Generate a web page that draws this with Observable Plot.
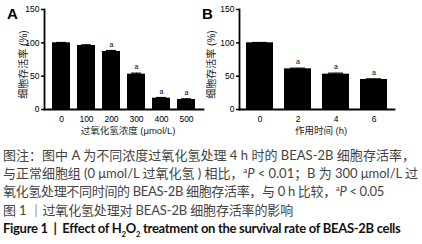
<!DOCTYPE html>
<html><head><meta charset="utf-8">
<script src="https://cdn.jsdelivr.net/npm/d3@7"></script>
<script src="https://cdn.jsdelivr.net/npm/@observablehq/plot@0.6"></script>
<style>
html,body{margin:0;padding:0;background:#fff;}
#root{position:relative;width:422px;height:244px;overflow:hidden;font-family:Lato,"Noto Sans CJK SC",sans-serif;}
.panel{position:absolute;top:0;}
.letter{position:absolute;font:bold 15px "Liberation Sans",Arial,sans-serif;color:#000;}
#cap{position:absolute;left:3px;top:146px;font-size:13px;line-height:18.2px;color:#444;white-space:nowrap;}
#cap div{white-space:nowrap;display:block;width:max-content;}
#cap .en{color:#111;font-weight:bold;}
sup,sub{font-size:0.6em;line-height:0;}
</style></head>
<body><div id="root">
<div id="pa" class="panel" style="left:0"></div>
<div id="pb" class="panel" style="left:180px"></div>
<div class="letter" style="left:7px;top:5px">A</div>
<div class="letter" style="left:202px;top:5px">B</div>
<div id="cap">
<div data-w="412">图注：图中 A 为不同浓度过氧化氢处理 4 h 时的 BEAS-2B 细胞存活率，</div>
<div data-w="415">与正常细胞组 (0 μmol/L 过氧化氢 ) 相比，<sup>a</sup><i>P</i> &lt; 0.01；B 为 300 μmol/L 过</div>
<div data-w="381">氧化氢处理不同时间的 BEAS-2B 细胞存活率，与 0 h 比较，<sup>a</sup><i>P</i> &lt; 0.05</div>
<div data-w="290">图 1 ｜过氧化氢处理对 BEAS-2B 细胞存活率的影响</div>
<div class="en" data-w="397">Figure 1 &nbsp;|&nbsp; Effect of H<sub>2</sub>O<sub>2</sub> treatment on the survival rate of BEAS-2B cells</div>
</div>
</div>
<script>
const concLabels = ["0","100","200","300","400","500"];
const concMeans = [100,96,87,53,17,15];
const concErr = [0.5,1,1.5,1.5,1,1];
const concSig = ["","","a","a","a","a"];
const timeLabels = ["0","2","4","6"];
const timeMeans = [100,61,53,45];
const timeErr = [0.5,1,1.5,1];
const timeSig = ["","a","a","a"];
const yTicks = [0,50,100,150];
const yTitle = "细胞存活率 (%)";
const concTitle = "过氧化氢浓度 (μmol/L)";
const timeTitle = "作用时间 (h)";

function panel(labels, means, errs, sig, xTitle, o) {
  const data = labels.map((k,i)=>({k, v:means[i], e:errs[i], s:sig[i]}));
  return Plot.plot({
    width: o.width, height: 140,
    marginLeft: o.ml, marginTop: 9, marginBottom: 31, marginRight: 3,
    style: {fontFamily: '"Liberation Sans", Arial, "Noto Sans CJK SC", sans-serif', fontSize: "8.5px", color: "#000", background: "transparent", overflow: "visible"},
    x: {domain: labels, paddingInner: 0.3, paddingOuter: o.po, label: null},
    y: {domain: [0,150], label: null},
    marks: [
      Plot.barY(data, {x:"k", y:"v", fill:"#000"}),
      Plot.ruleX(data, {x:"k", y1:"v", y2:d=>d.v+d.e, stroke:"#000"}),
      Plot.tickY(data, {x:"k", y:d=>d.v+d.e, stroke:"#000", strokeWidth:1.2, inset:o.capInset}),
      Plot.text(data, {x:"k", y:d=>d.v+d.e, text:"s", dy:-6, fontSize:7, fill:"#000"}),
      Plot.axisY({ticks: yTicks, tickSize: 3, tickPadding: 2, label: null, strokeWidth: 1.5}),
      Plot.axisX({tickSize: 0, tickPadding: 6, label: null}),
      Plot.frame({anchor:"left", stroke:"#000", strokeWidth:1.8}),
      Plot.frame({anchor:"bottom", stroke:"#000", strokeWidth:1.8}),
      Plot.text([yTitle], {frameAnchor:"left", textAnchor:"middle", rotate:-90, dx:o.ydx, dy:5, text:d=>d, fontSize:10, fill:"#222"}),
      Plot.text([xTitle], {frameAnchor:"bottom", dy:24, dx:4, text:d=>d, fontSize:9.5, fill:"#222"})
    ]
  });
}
document.getElementById("pa").append(panel(concLabels, concMeans, concErr, concSig, concTitle, {width:206, ml:44, po:0.25, ydx:-21, capInset:4}));
document.getElementById("pb").append(panel(timeLabels, timeMeans, timeErr, timeSig, timeTitle, {width:217, ml:59, po:0.15, ydx:-28, capInset:6}));

function fitCaption(){
  document.querySelectorAll("#cap div").forEach(el=>{
    el.style.letterSpacing = "0px";
    const target = +el.dataset.w;
    const w = el.getBoundingClientRect().width;
    const n = el.textContent.length;
    el.style.letterSpacing = ((target - w) / n) + "px";
  });
}
fitCaption();
if (document.fonts && document.fonts.ready) document.fonts.ready.then(fitCaption);
</script>
</body></html>
